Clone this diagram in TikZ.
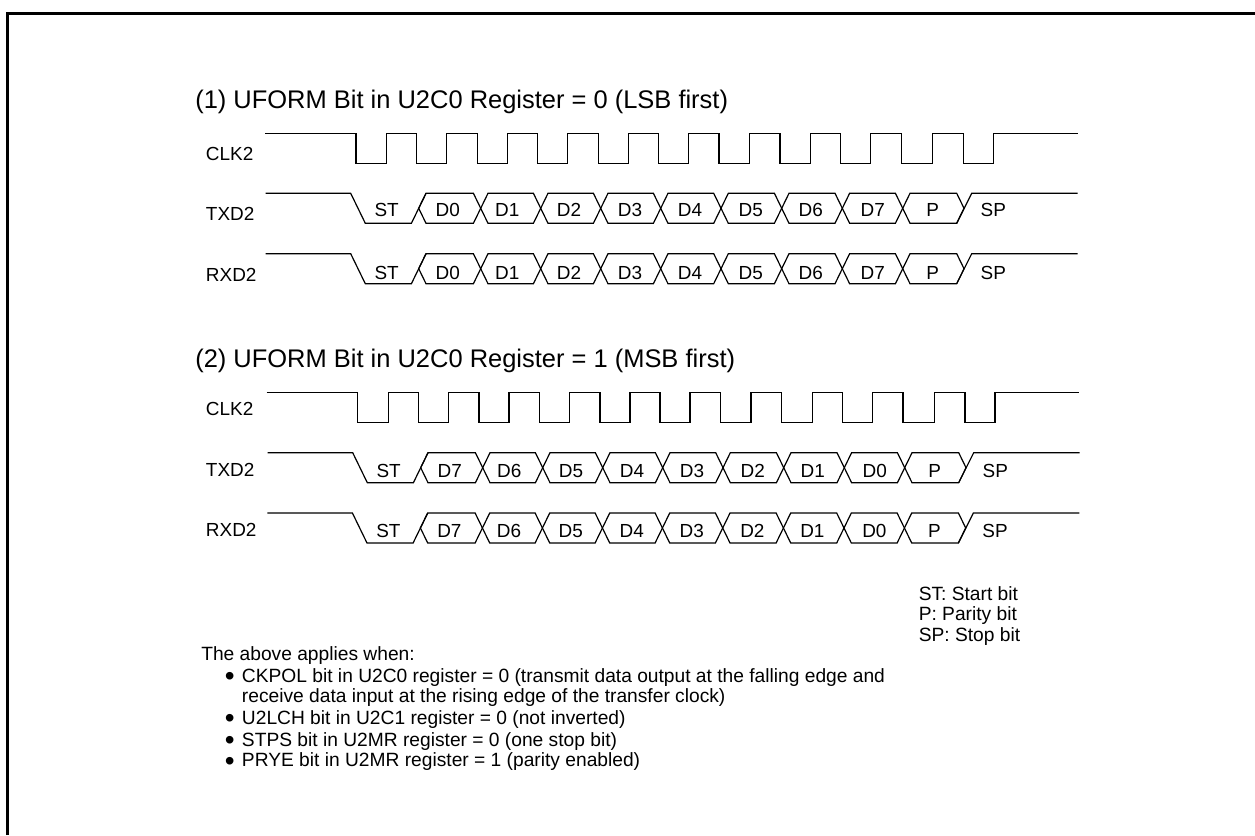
\documentclass[tikz,border=0pt]{standalone}
\usepackage{fontspec}
\setmainfont{Liberation Sans}

\newcommand{\lsbbits}{386.7/ST,447.7/D0,507.3/D1,569/D2,630/D3,690/D4,750.7/D5,810.7/D6,872.7/D7,932.7/P,993.3/SP}
\newcommand{\msbbits}{386.7/ST,447.7/D7,507.3/D6,569/D5,630/D4,690/D3,750.7/D2,810.7/D1,872.7/D0,932.7/P,993.3/SP}
\newcommand{\bull}{\llap{\smash{\raisebox{-2.6pt}{\fontsize{21}{21}\selectfont •}}\hspace{5.5pt}}}

% name, label, x shift, high level, label y, text y
\newcommand{\clkrow}[5]{
  \node[sig] (#1) at (205.7,#5+6.8) {#2};
  \draw[wave, shift={(#3,#4)}] (265,0) -- (356,0) -- (356,30) -- (386.7,30) -- (386.7,0)
    -- (416.7,0) -- (416.7,30) -- (446.7,30) -- (446.7,0)
    -- (477.3,0) -- (477.3,30) -- (507.3,30) -- (507.3,0)
    -- (537.7,0) -- (537.7,30) -- (567.7,30) -- (567.7,0)
    -- (598.3,0) -- (598.3,30) -- (628.3,30) -- (628.3,0)
    -- (658.3,0) -- (658.3,30) -- (688.3,30) -- (688.3,0)
    -- (719,0) -- (719,30) -- (749.3,30) -- (749.3,0)
    -- (780,0) -- (780,30) -- (810.7,30) -- (810.7,0)
    -- (840.7,0) -- (840.7,30) -- (870.7,30) -- (870.7,0)
    -- (901.3,0) -- (901.3,30) -- (932.7,30) -- (932.7,0)
    -- (963.3,0) -- (963.3,30) -- (993.3,30) -- (993.3,0) -- (1077.7,0);
}
\newcommand{\datarow}[7]{
  \node[sig] (#1) at (205.7,#5+6.8) {#2};
  \begin{scope}[shift={(#3,#4)}]
    \draw[wave] (265.7,0) -- (350.7,0) -- (365.3,30) -- (411.4,30) -- (426,0);
    \foreach \xa/\xb in {418.7/480.7,480.7/540.7,540.7/600.7,600.7/660.7,660.7/721,
                         721/781.7,781.7/842.3,842.3/902.7,902.7/964}
      \draw[wave] (\xa,15) -- (\xa+7.3,0) -- (\xb-7.3,0) -- (\xb,15)
        -- (\xb-7.3,30) -- (\xa+7.3,30) -- cycle;
    \draw[wave] (956.7,30) -- (971.7,0) -- (1077.7,0);
  \end{scope}
  \foreach \xpos/\txt in #7
    \node[bit] (#1-\txt) at (\xpos+#3,#6+6.8) {\txt};
}

\begin{document}
\begin{tikzpicture}[
x=0.75pt, y=-0.75pt,
wave/.style={line width=0.9pt, line join=miter},
frameline/.style={line width=2.25pt},
heading/.style={anchor=base west, inner sep=0pt, font=\fontsize{19.1}{21}\selectfont},
sig/.style={anchor=base west, inner sep=0pt, font=\fontsize{14.2}{16}\selectfont},
bit/.style={anchor=base, inner sep=0pt, font=\fontsize{14.2}{16}\selectfont},
body/.style={anchor=base west, inner sep=0pt, font=\fontsize{14.4}{16}\selectfont}
]
\useasboundingbox (0,0) rectangle (1255,835);

\draw[frameline] (7.5,835) -- (7.5,13.5) -- (1255,13.5);

% LSB first
\node[heading] (titlea) at (195,108.3) {(1) UFORM Bit in U2C0 Register = 0 (LSB first)};
\clkrow{clka}{CLK2}{0}{133.3}{153.3}
\datarow{txa}{TXD2}{0}{193.3}{214}{210}{\lsbbits}
\datarow{rxa}{RXD2}{0}{253.7}{275}{272.7}{\lsbbits}

% MSB first
\node[heading] (titleb) at (195,367.7) {(2) UFORM Bit in U2C0 Register = 1 (MSB first)};
\clkrow{clkb}{CLK2}{1.7}{392.3}{409}
\datarow{txb}{TXD2}{2}{452.7}{470}{470.7}{\msbbits}
\datarow{rxb}{RXD2}{1.7}{513}{529.3}{530.7}{\msbbits}

% legend
\node[body] (legst) at (918.5,600) {ST: Start bit};
\node[body] (legp) at (918.5,620.7) {P: Parity bit};
\node[body] (legsp) at (918.5,641.7) {SP: Stop bit};

% conditions
\node[body] (cond) at (201,660) {The above applies when:};
\node[body] (conda) at (241.7,682.3) {\bull CKPOL bit in U2C0 register = 0 (transmit data output at the falling edge and};
\node[body] (condb) at (241.7,702.7) {receive data input at the rising edge of the transfer clock)};
\node[body] (condc) at (241.7,724) {\bull U2LCH bit in U2C1 register = 0 (not inverted)};
\node[body] (condd) at (241.7,746) {\bull STPS bit in U2MR register = 0 (one stop bit)};
\node[body] (conde) at (241.7,766.7) {\bull PRYE bit in U2MR register = 1 (parity enabled)};
\end{tikzpicture}
\end{document}
